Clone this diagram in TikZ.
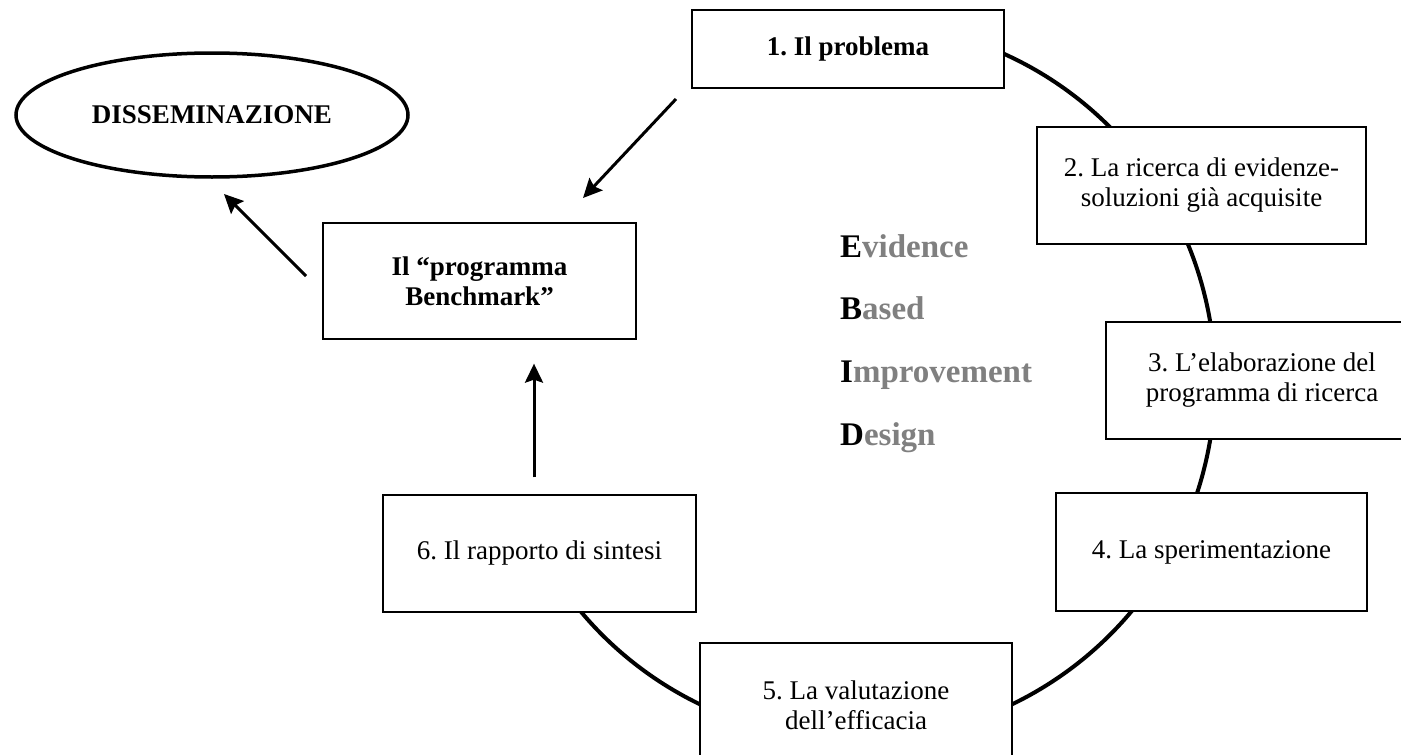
\documentclass[tikz,border=0pt]{standalone}
\usepackage{fontspec}
\setmainfont{Liberation Serif}
\usetikzlibrary{shapes.geometric,arrows.meta}
\definecolor{ebidgray}{RGB}{128,128,128}
\frenchspacing
\tikzset{
  stepbox/.style={draw=black, line width=1.3pt, fill=white, rectangle, inner sep=0pt, align=center,
    font=\fontsize{27}{30}\selectfont},
  arr/.style={line width=3pt, -{Stealth[length=19pt,width=18pt,inset=3pt]}},
  ebid/.style={anchor=base west, inner sep=0pt, font=\fontsize{33}{36}\selectfont\bfseries, text=ebidgray},
}
\begin{document}
\begin{tikzpicture}[x=1pt,y=1pt]
\clip (0,0) rectangle (1401,-755);
\fill[white] (0,0) rectangle (1401,-755);
% cycle arc
\coordinate (cyc) at (856,-381);
\draw[line width=4pt] (cyc) ++(75:359) arc[start angle=75, end angle=-145, radius=359];
% boxes
\node[stepbox, minimum width=312pt, minimum height=78pt] (b1) at (848,-49) {\bfseries 1. Il problema};
\node[stepbox, minimum width=329pt, minimum height=117pt] (b2) at (1201.5,-185.5) {2. La ricerca di evidenze-\\soluzioni già acquisite};
\node[stepbox, minimum width=312pt, minimum height=117pt] (b3) at (1262,-380.5) {3. L’elaborazione del\\programma di ricerca};
\node[stepbox, minimum width=311pt, minimum height=118pt] (b4) at (1211.5,-552) {4. La sperimentazione};
\node[stepbox, minimum width=312pt, minimum height=124pt] (b5) at (856,-705) {5. La valutazione\\dell’efficacia};
\node[stepbox, minimum width=313pt, minimum height=117pt] (b6) at (539.5,-553.5) {6. Il rapporto di sintesi};
\node[stepbox, minimum width=313pt, minimum height=116pt] (bench) at (479.5,-281) {\bfseries Il “programma\\\bfseries Benchmark”};
\node[draw=black, line width=3.5pt, ellipse, inner sep=0pt, minimum width=392pt, minimum height=124pt,
  font=\fontsize{27}{30}\selectfont\bfseries] (diss) at (212,-115) {DISSEMINAZIONE};
% EBID
\node[ebid] (ev) at (840,-257) {\textcolor{black}{E}vidence};
\node[ebid] (ba) at (840,-319) {\textcolor{black}{B}ased};
\node[ebid] (im) at (840,-382) {\textcolor{black}{I}mprovement};
\node[ebid] (de) at (840,-445) {\textcolor{black}{D}esign};
% arrows
\coordinate (a1s) at (676,-99);
\coordinate (a1e) at (583,-198);
\coordinate (a2s) at (306,-276);
\coordinate (a2e) at (224,-194);
\draw[arr] (a1s) -- (a1e);
\draw[arr] (a2s) -- (a2e);
\draw[arr, shorten <=17pt, shorten >=24pt] ([xshift=-5.5pt]b6.north) -- ([xshift=-5.5pt]b6.north |- bench.south);
\end{tikzpicture}
\end{document}
